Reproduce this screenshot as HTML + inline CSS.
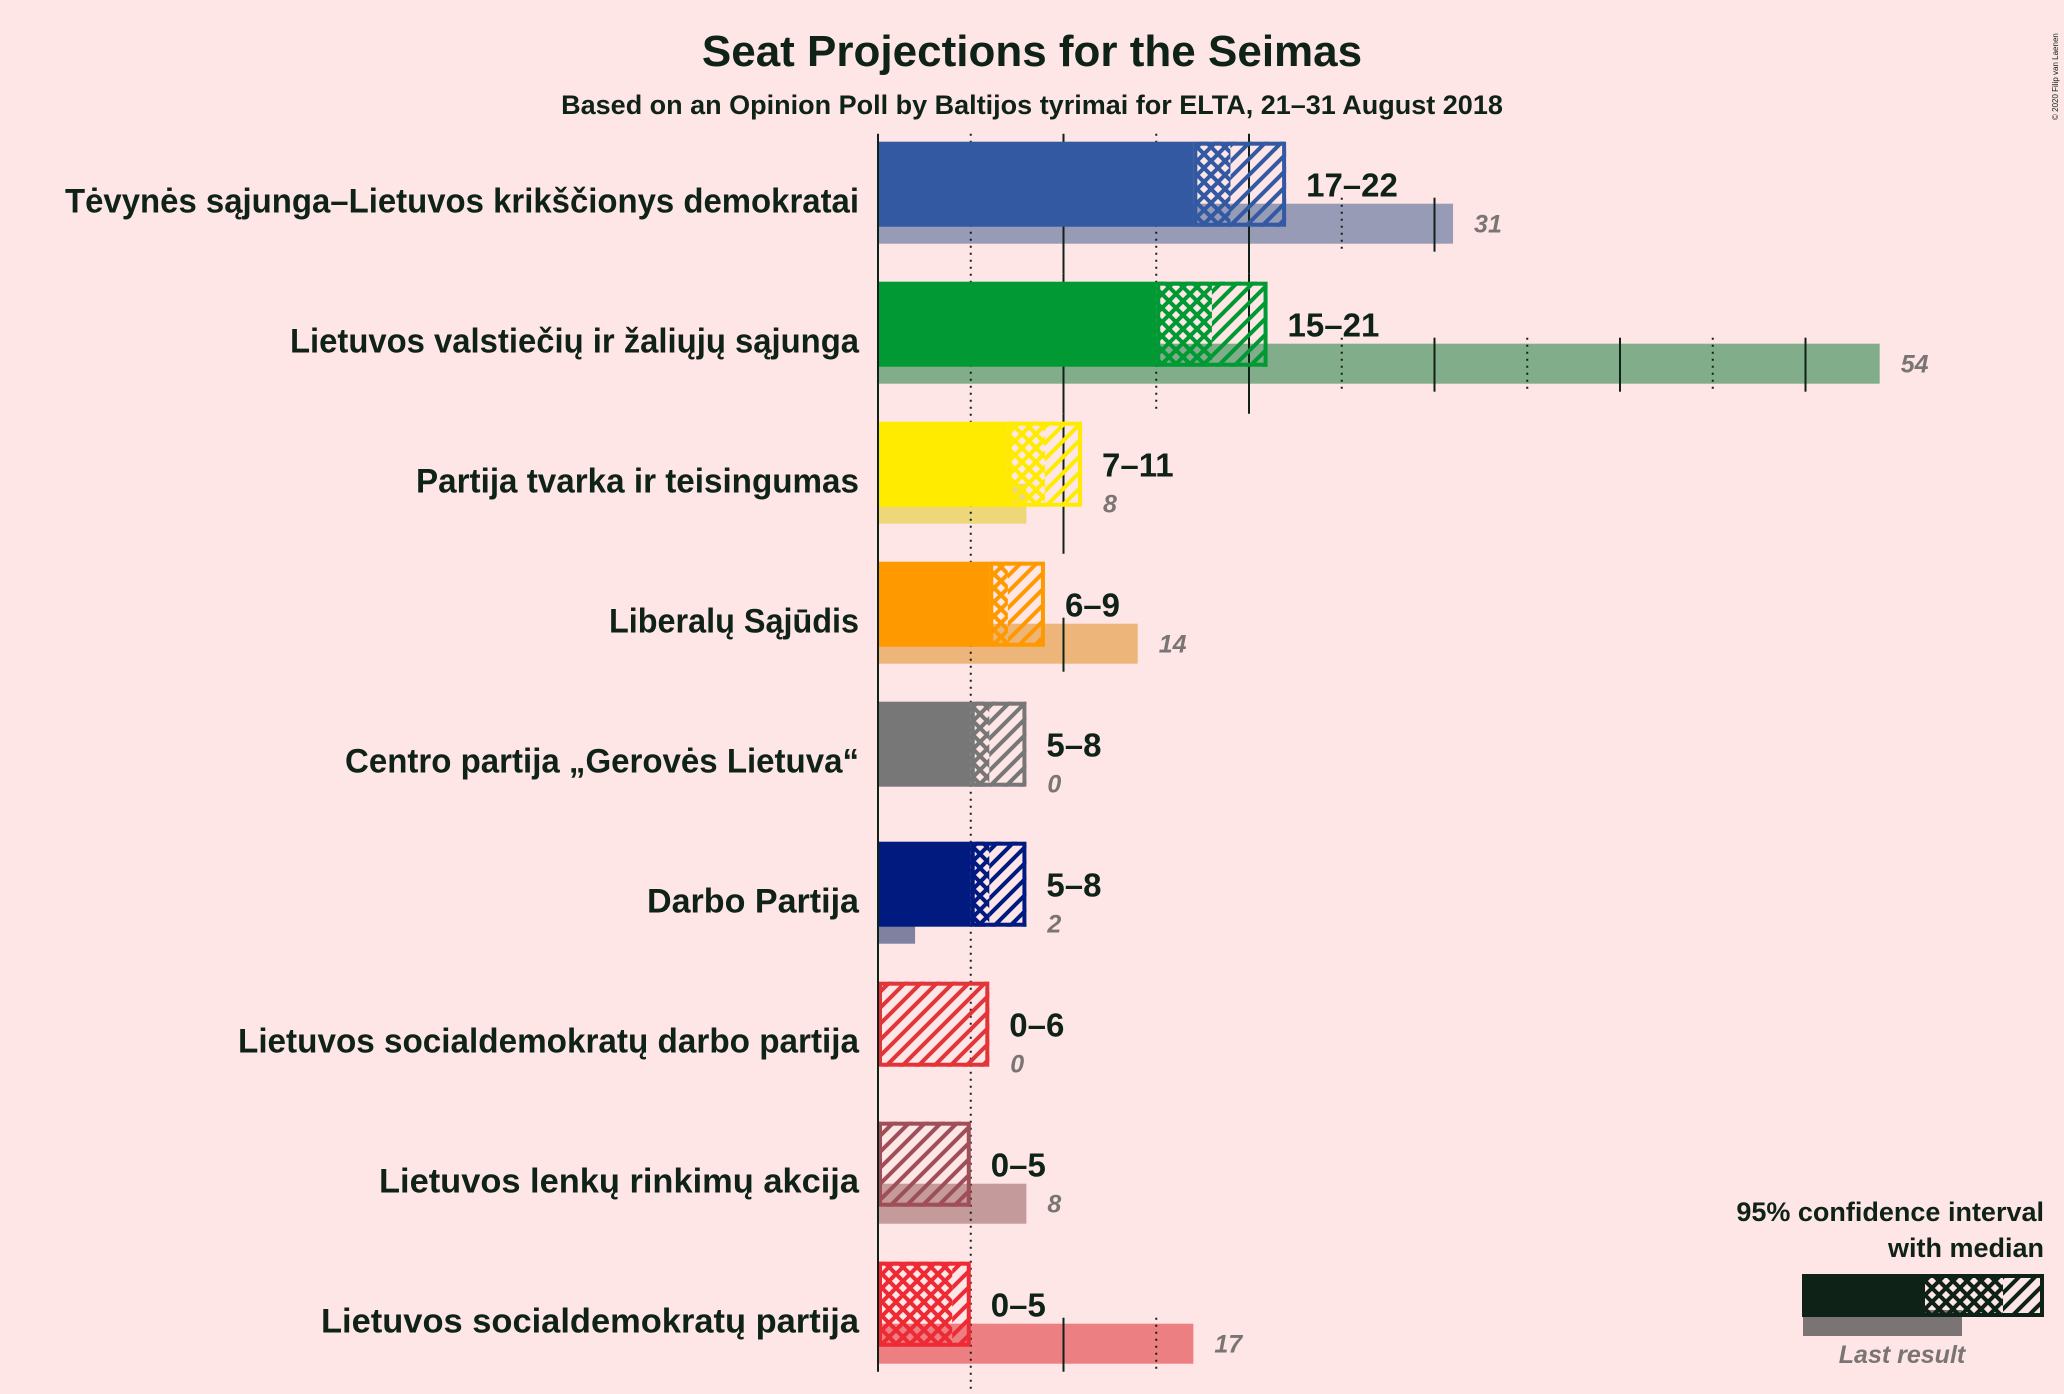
<!DOCTYPE html>
<html><head><meta charset="utf-8"><style>
html,body{margin:0;padding:0;background:#FFE6E6;}
svg{display:block;font-family:"Liberation Sans",sans-serif;}
</style></head><body>
<svg id="chart" width="2064" height="1394" viewBox="0 0 2064 1394" xmlns="http://www.w3.org/2000/svg">
<rect width="2064" height="1394" fill="#FFE6E6"/>
<text x="1032" y="66" text-anchor="middle" font-size="44" font-weight="bold" fill="#0F2218">Seat Projections for the Seimas</text>
<text x="1032" y="114" text-anchor="middle" font-size="27" font-weight="bold" fill="#0F2218">Based on an Opinion Poll by Baltijos tyrimai for ELTA, 21–31 August 2018</text>
<text x="0" y="0" transform="translate(2058,120) rotate(-90)" font-size="8" fill="#0F2218">© 2020 Filip van Laenen</text>
<defs id="defs"></defs>
<g id="rows"></g>
<g id="legend"></g>
</svg>
<script>
const parties = ["Tėvynės sąjunga–Lietuvos krikščionys demokratai","Lietuvos valstiečių ir žaliųjų sąjunga","Partija tvarka ir teisingumas","Liberalų Sąjūdis","Centro partija „Gerovės Lietuva“","Darbo Partija","Lietuvos socialdemokratų darbo partija","Lietuvos lenkų rinkimų akcija","Lietuvos socialdemokratų partija"];
const lowerCI = [17,15,7,6,5,5,0,0,0];
const medians = [19,18,9,7,6,6,0,0,4];
const upperCI = [22,21,11,9,8,8,6,5,5];
const lastResult = [31,54,8,14,0,2,0,8,17];
const colors = ["#3359A3","#009933","#FFEB00","#FF9900","#777777","#001A80","#E0363A","#9E4F58","#EE2A35"];
const lastColors = ["#979BB5","#82AD8A","#EDD77A","#EDB57A","#AAAAAA","#8080A0","#E89A9A","#C49A9A","#EC7F82"];
const labelWidths = [794,569,443,250,514,212,621,480,538];

const NS="http://www.w3.org/2000/svg";
const X0=878, PX=18.55, T0=141.7, PITCH=140, BH=85;
const xs=v=>X0+v*PX;
const ys=i=>T0+i*PITCH;
const defs=document.getElementById('defs');
const rows=document.getElementById('rows');
function mk(tag,attrs,parent){const e=document.createElementNS(NS,tag);for(const k in attrs)e.setAttribute(k,attrs[k]);parent.appendChild(e);return e;}

function makePatterns(id,col){
  const p1=mk('pattern',{id:'diag'+id,patternUnits:'userSpaceOnUse',width:16,height:16},defs);
  mk('path',{d:'M-4,4 L4,-4 M0,16 L16,0 M12,20 L20,12',stroke:col,'stroke-width':4},p1);
  const p2=mk('pattern',{id:'cross'+id,patternUnits:'userSpaceOnUse',width:14,height:14},defs);
  mk('path',{d:'M-4,4 L4,-4 M0,14 L14,0 M10,18 L18,10 M-4,10 L4,18 M0,0 L14,14 M10,-4 L18,4',stroke:col,'stroke-width':4},p2);
}

for(let i=0;i<parties.length;i++){
  const col=colors[i], T=ys(i);
  makePatterns(i,col);
  const g=mk('g',{},rows);
  
  
  const lbl=mk('text',{x:859,y:T+71,'text-anchor':'end','font-size':34,'font-weight':'bold',fill:'#0F2218',textLength:labelWidths[i],lengthAdjust:'spacingAndGlyphs'},g);
  lbl.textContent=parties[i];
  
  
  if(lastResult[i]>0){
    const lr=mk('rect',{x:X0,y:T+62,width:xs(lastResult[i])-X0,height:40,fill:lastColors[i]},g);
    
    
  }
  const maxv=Math.max(upperCI[i],lastResult[i]);
  for(let s=5;s<=maxv;s+=5){
    const full=s<=upperCI[i];
    const gl=mk('line',{x1:xs(s),x2:xs(s),y1:full?T-8:T+56,y2:full?T+132:T+110,stroke:'#0F2218','stroke-width':2},g);
    if(s%10!==0)gl.setAttribute('stroke-dasharray','2,5');
    
    
  }
  if(lowerCI[i]>0){
    const sb=mk('rect',{x:X0,y:T,width:xs(lowerCI[i])-X0,height:BH,fill:col},g);
    
    
  }
  if(medians[i]>lowerCI[i]){
    const cb=mk('rect',{x:xs(lowerCI[i]),y:T,width:(medians[i]-lowerCI[i])*PX,height:BH,fill:'url(#cross'+i+')'},g);
    
    
  }
  if(upperCI[i]>medians[i]){
    const hb=mk('rect',{x:xs(medians[i]),y:T,width:(upperCI[i]-medians[i])*PX,height:BH,fill:'url(#diag'+i+')'},g);
    
    
  }
  const ob=mk('rect',{x:xs(lowerCI[i])+2,y:T+2,width:(upperCI[i]-lowerCI[i])*PX-4,height:BH-4,fill:'none',stroke:col,'stroke-width':4},g);
  
  
  const rl=mk('text',{x:xs(upperCI[i])+20,y:T+55,'font-size':33,'font-weight':'bold',fill:'#0F2218'},g);
  rl.textContent=lowerCI[i]+'–'+upperCI[i];
  
  
  const ll=mk('text',{x:xs(maxv)+21,y:T+91,'font-size':25,'font-weight':'bold','font-style':'italic',fill:'#7A7574'},g);
  ll.textContent=lastResult[i];
  
  
}
const ax=mk('line',{x1:X0,x2:X0,y1:T0-8,y2:ys(parties.length-1)+110,stroke:'#0F2218','stroke-width':2},rows);



const lg=document.getElementById('legend');
makePatterns('L','#0F2218');
const t1=mk('text',{x:2044,y:1221,'text-anchor':'end','font-size':27,'font-weight':'bold',fill:'#0F2218'},lg);
t1.textContent='95% confidence interval';


const t2=mk('text',{x:2044,y:1257,'text-anchor':'end','font-size':27,'font-weight':'bold',fill:'#0F2218'},lg);
t2.textContent='with median';


const l0=mk('rect',{x:1803,y:1310,width:159,height:26,fill:'#7A7574'},lg);


const l1=mk('rect',{x:1802,y:1274,width:119,height:43,fill:'#0F2218'},lg);


const l2=mk('rect',{x:1921,y:1274,width:82,height:43,fill:'url(#crossL)'},lg);


const l3=mk('rect',{x:2003,y:1274,width:41,height:43,fill:'url(#diagL)'},lg);


const l4=mk('rect',{x:1923,y:1276,width:119,height:39,fill:'none',stroke:'#0F2218','stroke-width':4},lg);


const t3=mk('text',{x:1902,y:1363,'text-anchor':'middle','font-size':25,'font-weight':'bold','font-style':'italic',fill:'#7A7574'},lg);
t3.textContent='Last result';


</script>
</body></html>
